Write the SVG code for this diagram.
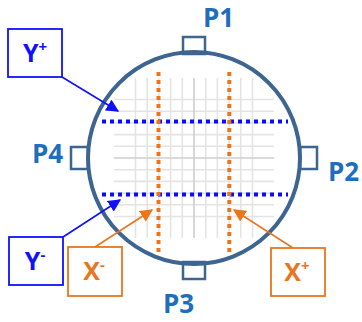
<svg xmlns="http://www.w3.org/2000/svg" width="362" height="322" viewBox="0 0 362 322">
<defs>
<style>
.grid{stroke:#e4e4e4;stroke-width:1.6;fill:none}
.gridc{stroke:#cfcfcf;stroke-width:1.6;fill:none}
.wafer{fill:none;stroke:#3d6591;stroke-width:4}
.tab{fill:#fff;stroke:#3d6591;stroke-width:2.5}
.plab{font-family:"Open Sans","Liberation Sans",sans-serif;font-weight:700;font-size:26px;fill:#1f6dbd}
.blab{font-family:"Open Sans","Liberation Sans",sans-serif;font-weight:700;font-size:25px}
.sup{font-size:15px}
.bbox{fill:#fff;stroke:#1010ff;stroke-width:1.8}
.obox{fill:#fff;stroke:#e8761f;stroke-width:1.8}
.bdot{stroke:#0a0aff;stroke-width:4;stroke-dasharray:4 4;fill:none}
.odot{stroke:#e8761f;stroke-width:4;stroke-dasharray:4 4;fill:none}
.barr{stroke:#1010ff;stroke-width:1.6;fill:none;marker-end:url(#ab)}
.oarr{stroke:#e8761f;stroke-width:1.6;fill:none;marker-end:url(#ao)}
</style>
<marker id="ab" viewBox="0 0 10 10" refX="9" refY="5" markerWidth="8" markerHeight="8" markerUnits="strokeWidth" orient="auto"><path d="M0,0L10,5L0,10z" fill="#1010ff"/></marker>
<marker id="ao" viewBox="0 0 10 10" refX="9" refY="5" markerWidth="8" markerHeight="8" markerUnits="strokeWidth" orient="auto"><path d="M0,0L10,5L0,10z" fill="#e8761f"/></marker>
</defs>
<g id="grid">
<path class="grid" d="M135.5,78V238M147.2,78V238M158.9,78V238M170.6,78V238M182.3,78V238M205.7,78V238M217.4,78V238M229.1,78V238M240.8,78V238M252.5,78V238"/>
<path class="grid" d="M114,99.5H274M114,111.2H274M114,122.9H274M114,134.6H274M114,146.3H274M114,169.7H274M114,181.4H274M114,193.1H274M114,204.8H274M114,216.5H274"/>
<path class="gridc" d="M194,78V238M114,158H274"/>
</g>
<g id="wafer">
<rect class="tab" x="183" y="37" width="22" height="17"/>
<rect class="tab" x="183" y="262" width="22" height="17"/>
<rect class="tab" x="71" y="147" width="17" height="22"/>
<rect class="tab" x="300" y="147" width="17" height="22"/>
<circle class="wafer" cx="194" cy="158" r="106"/>
</g>
<g id="P1"><text class="plab" x="203" y="27">P1</text></g>
<g id="P2"><text class="plab" x="328" y="181">P2</text></g>
<g id="P3"><text class="plab" x="163" y="313">P3</text></g>
<g id="P4"><text class="plab" x="32" y="163">P4</text></g>
<g id="scan-lines">
<path class="bdot" d="M102,121.5H288"/>
<path class="bdot" d="M102,194.5H288"/>
<path class="odot" d="M158.5,72V256"/>
<path class="odot" d="M229.3,72V256"/>
</g>
<g id="Yplus">
<rect class="bbox" x="8" y="29" width="54" height="48"/>
<text class="blab" x="35" y="62" text-anchor="middle" fill="#1010ff">Y<tspan class="sup" dy="-10">+</tspan></text>
</g>
<g id="Yminus">
<rect class="bbox" x="9" y="237" width="54" height="48"/>
<text class="blab" x="35" y="270" text-anchor="middle" fill="#1010ff">Y<tspan class="sup" dy="-10">-</tspan></text>
</g>
<g id="Xminus">
<rect class="obox" x="68" y="247" width="54" height="49"/>
<text class="blab" x="94" y="280" text-anchor="middle" fill="#e8761f">X<tspan class="sup" dy="-10">-</tspan></text>
</g>
<g id="Xplus">
<rect class="obox" x="271" y="248" width="54" height="48"/>
<text class="blab" x="297" y="281" text-anchor="middle" fill="#e8761f">X<tspan class="sup" dy="-10">+</tspan></text>
</g>
<g id="connectors">
<path class="barr" d="M62,77L118,111"/>
<path class="barr" d="M63,237L120,200"/>
<path class="oarr" d="M95,247L152,210"/>
<path class="oarr" d="M293,248L234,210"/>
</g>
</svg>
